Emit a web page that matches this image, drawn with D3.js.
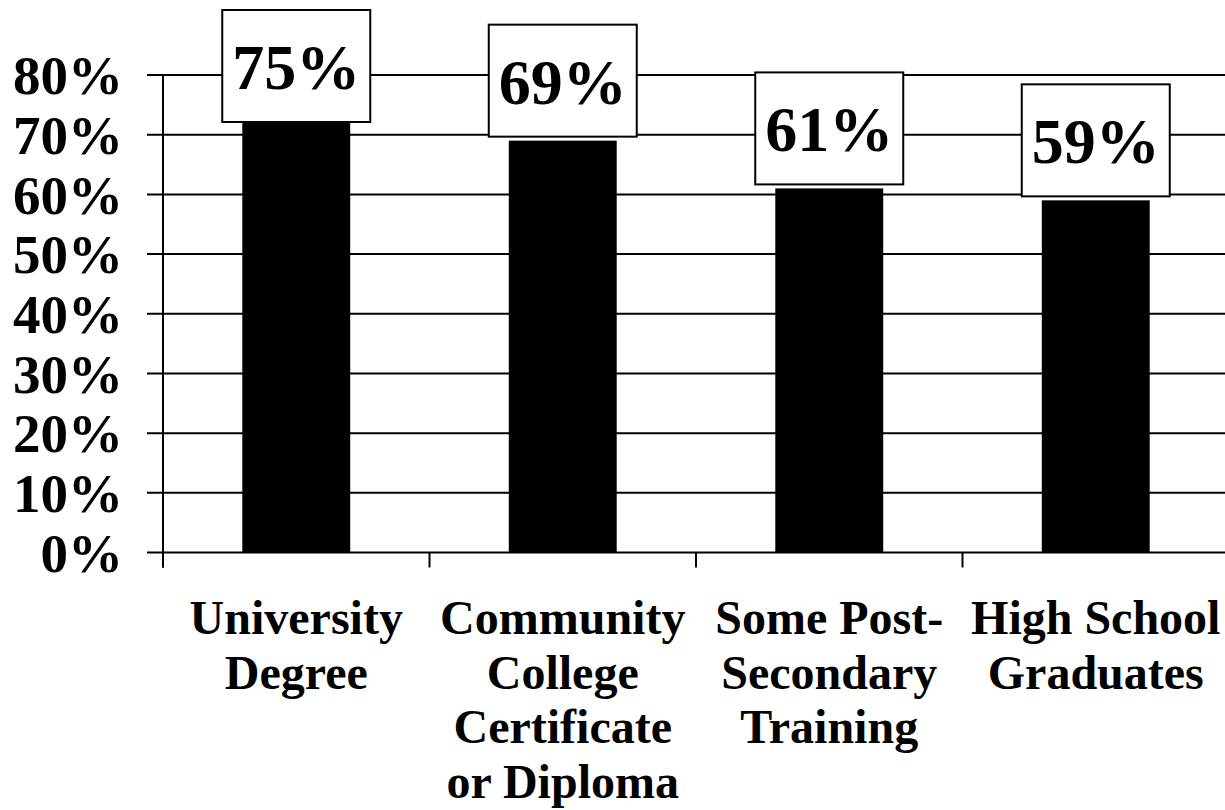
<!DOCTYPE html>
<html>
<head>
<meta charset="utf-8">
<script src="https://cdn.jsdelivr.net/npm/d3@7"></script>
<style>
  html, body { margin: 0; padding: 0; background: #fff; }
  svg { display: block; }
  text { font-family: "Liberation Serif", "Times New Roman", serif; font-weight: bold; fill: #000; }
</style>
</head>
<body>
<svg id="chart" width="1225" height="810"></svg>
<script>
const categories = [
  ["University", "Degree"],
  ["Community", "College", "Certificate", "or Diploma"],
  ["Some Post-", "Secondary", "Training"],
  ["High School", "Graduates"]
];
const values = [75, 69, 61, 59];
const valueLabels = ["75%", "69%", "61%", "59%"];
const yTicks = [0, 10, 20, 30, 40, 50, 60, 70, 80];
const yTickLabels = ["0%", "10%", "20%", "30%", "40%", "50%", "60%", "70%", "80%"];

(function () {
const svg = d3.select("#chart");
const W = 1225;
const mLeft = 163, mRight = 1229, mTop = 75, mBottom = 552.5;

const x = d3.scaleBand()
  .domain(d3.range(categories.length))
  .range([mLeft, mRight])
  .paddingInner(0.595)
  .paddingOuter(0.2975);

const y = d3.scaleLinear().domain([0, 80]).range([mBottom, mTop]);

// Gridlines (extending left as tick marks)
svg.append("g").selectAll("line")
  .data(yTicks)
  .join("line")
  .attr("x1", 147).attr("x2", W)
  .attr("y1", d => y(d)).attr("y2", d => y(d))
  .attr("stroke", "#000").attr("stroke-width", 2);

// Y axis line
svg.append("line")
  .attr("x1", mLeft).attr("x2", mLeft)
  .attr("y1", y(80)).attr("y2", mBottom + 15)
  .attr("stroke", "#000").attr("stroke-width", 2);

// Category tick marks (boundaries)
const step = x.step();
const boundaries = d3.range(categories.length).map(i => mLeft + i * step);
svg.append("g").selectAll("line")
  .data(boundaries)
  .join("line")
  .attr("x1", d => d).attr("x2", d => d)
  .attr("y1", mBottom).attr("y2", mBottom + 15)
  .attr("stroke", "#000").attr("stroke-width", 2);

// Y tick labels
svg.append("g").selectAll("text")
  .data(yTicks)
  .join("text")
  .attr("x", 123)
  .attr("y", d => y(d))
  .attr("dy", "0.35em")
  .attr("text-anchor", "end")
  .style("font-size", "55px")
  .text((d, i) => yTickLabels[i]);

// Bars
svg.append("g").selectAll("rect")
  .data(values)
  .join("rect")
  .attr("x", (d, i) => x(i))
  .attr("width", x.bandwidth())
  .attr("y", d => y(d))
  .attr("height", d => mBottom - y(d))
  .attr("fill", "#000");

// Value label boxes
const boxW = 148, boxH = 112, gap = 4, minTop = 10;
const lbl = svg.append("g").selectAll("g")
  .data(values)
  .join("g")
  .attr("transform", (d, i) => {
    const cx = x(i) + x.bandwidth() / 2;
    const ty = Math.max(minTop, y(d) - gap - boxH);
    return `translate(${cx - boxW / 2},${ty})`;
  });
lbl.append("rect")
  .attr("width", boxW).attr("height", boxH)
  .attr("fill", "#fff").attr("stroke", "#000").attr("stroke-width", 2);
lbl.append("text")
  .attr("x", boxW / 2).attr("y", boxH / 2)
  .attr("dy", "0.36em")
  .attr("text-anchor", "middle")
  .style("font-size", "64px")
  .text((d, i) => valueLabels[i]);

// Category labels
const cat = svg.append("g").selectAll("text")
  .data(categories)
  .join("text")
  .attr("text-anchor", "middle")
  .style("font-size", "48px")
  .attr("x", (d, i) => x(i) + x.bandwidth() / 2)
  .attr("y", 634);
cat.selectAll("tspan")
  .data(d => d)
  .join("tspan")
  .attr("x", function () { return d3.select(this.parentNode).attr("x"); })
  .attr("y", (d, j) => 634 + j * 54.7)
  .text(d => d);
})();
</script>
</body>
</html>
